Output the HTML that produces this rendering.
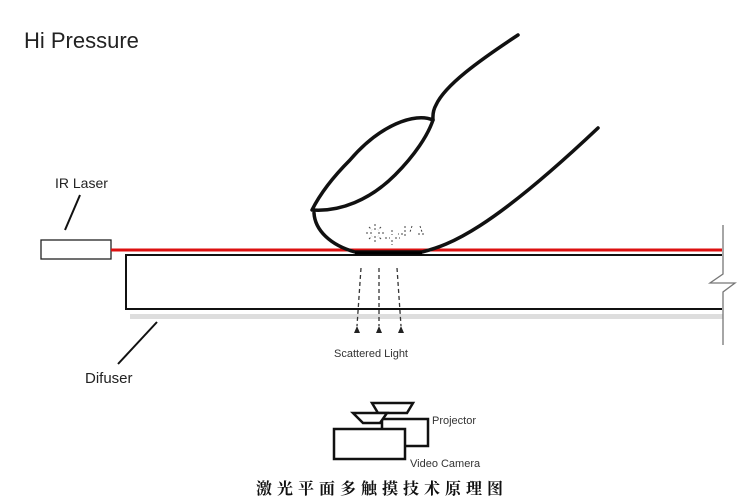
<!DOCTYPE html>
<html><head><meta charset="utf-8"><style>
html,body{margin:0;padding:0;background:#fff;width:750px;height:501px;overflow:hidden}
svg{display:block}
</style></head><body>
<svg width="750" height="501" viewBox="0 0 750 501" xmlns="http://www.w3.org/2000/svg" font-family="Liberation Sans, sans-serif">
<text x="24" y="48" font-size="22" fill="#222">Hi Pressure</text>
<text x="55" y="188" font-size="14" fill="#222">IR Laser</text>
<line x1="80" y1="195" x2="65" y2="230" stroke="#111" stroke-width="2"/>
<rect x="41" y="240" width="70" height="19" fill="#fff" stroke="#222" stroke-width="1.3"/>
<line x1="111" y1="250" x2="722" y2="250" stroke="#d11" stroke-width="3"/>
<path d="M722 255 L126 255 L126 309 L722 309" fill="none" stroke="#111" stroke-width="2"/>
<rect x="130" y="314" width="593" height="5" fill="#ddd"/>
<path d="M723 225 L723 274 L710 283 L735 283 L723 292 L723 345" fill="none" stroke="#777" stroke-width="1.3"/>
<line x1="157" y1="322" x2="118" y2="364" stroke="#111" stroke-width="2"/>
<text x="85" y="383" font-size="15" fill="#222">Difuser</text>
<!-- finger -->
<path d="M518 35 C480 60 445 85 436 105 C432 112 433 118 433 120" fill="none" stroke="#111" stroke-width="3.5" stroke-linecap="round"/>
<path d="M433 120 C415 112 380 125 350 160 C330 180 318 198 312 210 C340 212 370 200 395 175 C415 155 428 135 433 120 Z" fill="none" stroke="#111" stroke-width="3.5" stroke-linejoin="round"/>
<path d="M314 213 C315 230 330 245 355 252 L422 252 C450 245 490 230 598 128" fill="none" stroke="#111" stroke-width="3.5" stroke-linecap="round"/>
<line x1="355" y1="253" x2="422" y2="253" stroke="#000" stroke-width="3"/>
<g stroke="#444" stroke-width="1" stroke-dasharray="2,2">
<path d="M375 224 v6 M375 236 v6 M366 233 h6 M378 233 h6 M369 227 l3 3 M381 227 l-3 3 M369 239 l3 -3 M381 239 l-3 -3"/>
<path d="M392 230 v5 M392 240 v5 M385 238 h5 M395 238 h5"/>
<path d="M405 226 v10 M412 226 l-2 6 M420 226 l2 6 M418 234 h6 M403 234 h-5"/>
</g>
<g stroke="#333" stroke-width="1.3" stroke-dasharray="4,3" fill="none">
<line x1="361" y1="268" x2="357" y2="326"/>
<line x1="379" y1="268" x2="379" y2="326"/>
<line x1="397" y1="268" x2="401" y2="326"/>
</g>
<g fill="#222">
<path d="M354 333 l3 -7 l3 7 z"/>
<path d="M376 333 l3 -7 l3 7 z"/>
<path d="M398 333 l3 -7 l3 7 z"/>
</g>
<text x="334" y="357" font-size="11" fill="#333">Scattered Light</text>
<!-- camera/projector -->
<g fill="#fff" stroke="#111" stroke-width="2.5">
<polygon points="372,403 413,403 407,413 378,413"/>
<rect x="382" y="419" width="46" height="27"/>
<polygon points="353,413 387,413 380,423 363,423"/>
<rect x="334" y="429" width="71" height="30"/>
</g>
<text x="432" y="424" font-size="11" fill="#333">Projector</text>
<text x="410" y="467" font-size="11" fill="#333">Video Camera</text>
<text x="256" y="494" font-size="16" font-weight="bold" letter-spacing="5" font-family="Liberation Serif, Noto Serif CJK SC, serif" fill="#111">激光平面多触摸技术原理图</text>
</svg>
</body></html>
